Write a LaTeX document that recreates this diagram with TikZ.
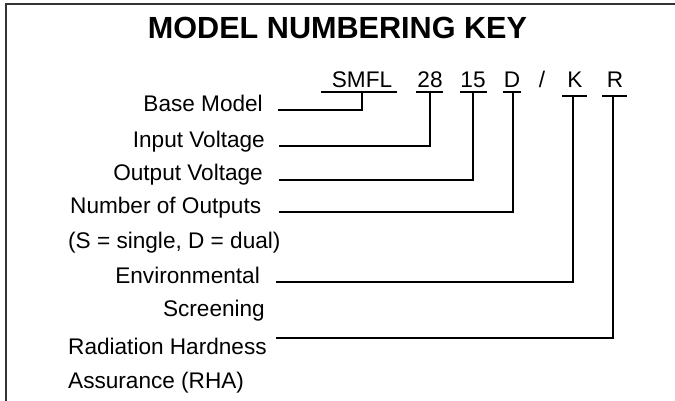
\documentclass[tikz,border=0pt]{standalone}
\usepackage{fontspec}
\setmainfont{Liberation Sans}
\begin{document}
\begin{tikzpicture}[x=1pt,y=-1pt,
  lbl/.style={inner sep=0pt, font=\fontsize{22.6}{26}\selectfont},
  code/.style={inner sep=0pt, font=\fontsize{22.6}{26}\selectfont, anchor=base},
  conn/.style={line width=1.9pt, line join=miter, line cap=butt},
  ttl/.style={font=\fontsize{30.6}{36}\selectfont\bfseries, inner sep=0pt}]
\useasboundingbox (0,0) rectangle (675,400);
\draw[line width=1.6pt, draw=black!80] (6,4) rectangle (700,420);
\node[ttl, anchor=base] (title) at (337.5,38.5) {MODEL NUMBERING KEY};
% code letters
\node[code] (smfl) at (362,87) {SMFL};
\node[code] (vin) at (430,87) {28};
\node[code] (vout) at (473,87) {15};
\node[code] (nout) at (512,87) {D};
\node[code] (slash) at (542,87) {/};
\node[code] (scr) at (575,87) {K};
\node[code] (rad) at (615,87) {R};
% underline points
\coordinate (uSMFL) at (362,92);
\coordinate (uVin) at (430,92);
\coordinate (uVout) at (473,92);
\coordinate (uNout) at (513,92);
\coordinate (uScr) at (573,96);
\coordinate (uRad) at (613,96);
\draw[conn] (321,92) -- (397,92);
\draw[conn] (416,92) -- (443,92);
\draw[conn] (460,92) -- (487,92);
\draw[conn] (503,92) -- (521,92);
\draw[conn] (562,96) -- (587,96);
\draw[conn] (602,96) -- (627,96);
% labels
\node[lbl, anchor=base east] (lbase) at (263,111) {Base Model};
\node[lbl, anchor=base east] (lvin) at (265,147) {Input Voltage};
\node[lbl, anchor=base east] (lvout) at (263,180) {Output Voltage};
\node[lbl, anchor=base west] (lnout) at (70,213) {Number of Outputs};
\node[lbl, anchor=base west] (lnout2) at (68,248) {(S = single, D = dual)};
\node[lbl, anchor=base east] (lscr) at (260,283) {Environmental};
\node[lbl, anchor=base east] (lscr2) at (265,316) {Screening};
\node[lbl, anchor=base west] (lrad) at (68,354) {Radiation Hardness};
\node[lbl, anchor=base west] (lrad2) at (68,388) {Assurance (RHA)};
% connector start points
\coordinate (sBase) at (278,110);
\coordinate (sVin) at (279,146);
\coordinate (sVout) at (279,180);
\coordinate (sNout) at (279,212);
\coordinate (sScr) at (276,282);
\coordinate (sRad) at (276,338);
\draw[conn] (sBase) -| (uSMFL);
\draw[conn] (sVin) -| (uVin);
\draw[conn] (sVout) -| (uVout);
\draw[conn] (sNout) -| (uNout);
\draw[conn] (sScr) -| (uScr);
\draw[conn] (sRad) -| (uRad);
\end{tikzpicture}
\end{document}
